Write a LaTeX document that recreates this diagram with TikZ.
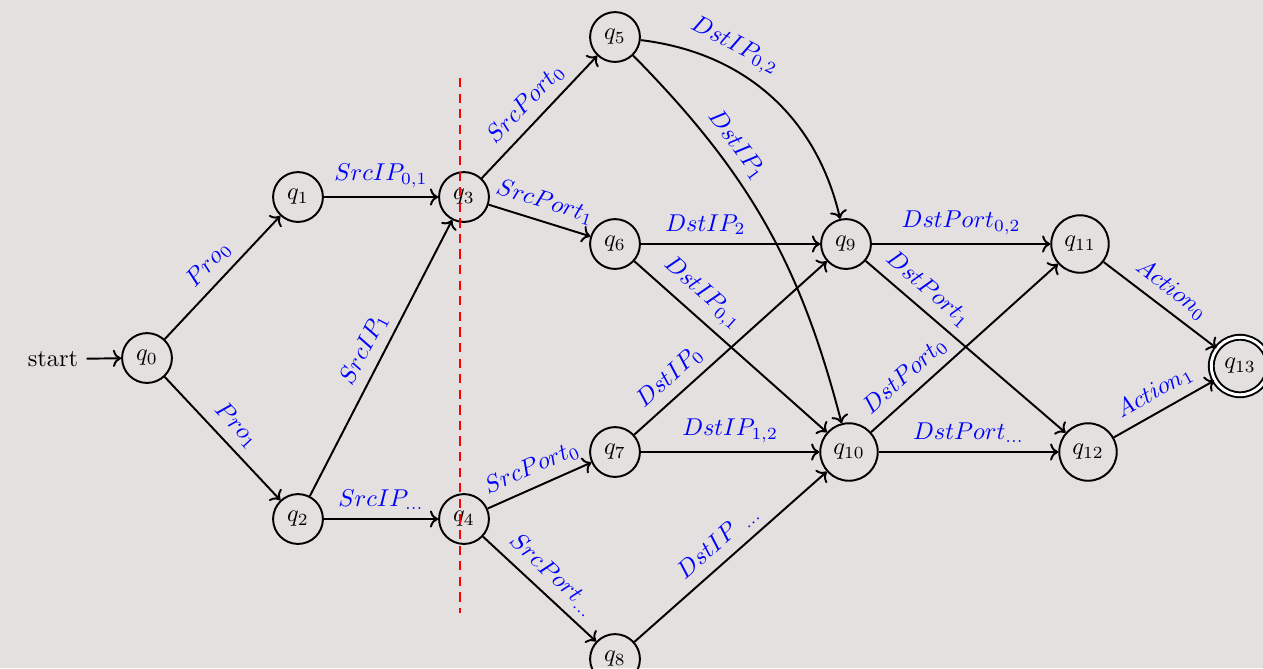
\documentclass[tikz,border=0pt]{standalone}
\usepackage{amsmath,amssymb}
\usetikzlibrary{arrows.meta}
\definecolor{bgcol}{RGB}{227,224,223}

\begin{document}
\begin{tikzpicture}[x = 0.01443cm, y = -0.01443cm,
        qnode/.style = {draw, circle, thick, inner sep = 3.4pt},
        qfinal/.style = {qnode, double, double distance = 1.2pt},
        trans/.style = {draw, thick, ->},
        tlabel/.style = {sloped, above, text = blue}]
        \path[use as bounding box, fill = bgcol](0,0)rectangle(1263,668);
        % states
        \node(start)at(53,359){start};
        \node[qnode](q0)at(147,358){$q_{0}$};
        \node[qnode](q1)at(298,197){$q_{1}$};
        \node[qnode](q2)at(298,519){$q_{2}$};
        \node[qnode](q3)at(464,197){$q_{3}$};
        \node[qnode](q4)at(464,519){$q_{4}$};
        \node[qnode](q5)at(615,37){$q_{5}$};
        \node[qnode](q6)at(615,244){$q_{6}$};
        \node[qnode](q7)at(615,452){$q_{7}$};
        \node[qnode](q8)at(615,659){$q_{8}$};
        \node[qnode](q9)at(846,244){$q_{9}$};
        \node[qnode](q10)at(849,452){$q_{10}$};
        \node[qnode](q11)at(1080,244){$q_{11}$};
        \node[qnode](q12)at(1088,452){$q_{12}$};
        \node[qfinal](q13)at(1240,366){$q_{13}$};
        % cut
        \coordinate(cut1)at(460,78);
        \coordinate(cut2)at(460,613);
        \path[draw, red, thick, dash pattern = on 3.8pt off 2.6pt](cut1)to(cut2);
        % protocol
        \path[trans](start)to(q0);
        \path[trans](q0)to node[tlabel]{$Pro_{0}$}(q1);
        \path[trans](q0)to node[tlabel]{$Pro_{1}$}(q2);
        % source ip
        \path[trans](q1)to node[tlabel]{$SrcIP_{0,1}$}(q3);
        \path[trans](q2)to node[tlabel]{$SrcIP_{1}$}(q3);
        \path[trans](q2)to node[tlabel]{$SrcIP_{\ldots}$}(q4);
        % source port
        \path[trans](q3)to node[tlabel]{$SrcPort_{0}$}(q5);
        \path[trans](q3)to node[tlabel]{$SrcPort_{1}$}(q6);
        \path[trans](q4)to node[tlabel]{$SrcPort_{0}$}(q7);
        \path[trans](q4)to node[tlabel]{$SrcPort_{\ldots}$}(q8);
        % destination ip
        \path[trans](q5)to[bend left = 35] node[tlabel, pos = 0.3]{$DstIP_{0,2}$}(q9);
        \path[trans](q5)to[bend left = 15] node[tlabel, pos = 0.3]{$DstIP_{1}$}(q10);
        \path[trans](q6)to node[tlabel, pos = 0.36]{$DstIP_{2}$}(q9);
        \path[trans](q6)to node[tlabel, pos = 0.28]{$DstIP_{0,1}$}(q10);
        \path[trans](q7)to node[tlabel, pos = 0.25]{$DstIP_{0}$}(q9);
        \path[trans](q7)to node[tlabel]{$DstIP_{1,2}$}(q10);
        \path[trans](q8)to node[tlabel]{$DstIP\ _{\ldots}$}(q10);
        % destination port
        \path[trans](q9)to node[tlabel]{$DstPort_{0,2}$}(q11);
        \path[trans](q9)to node[tlabel, pos = 0.25]{$DstPort_{1}$}(q12);
        \path[trans](q10)to node[tlabel, pos = 0.25]{$DstPort_{0}$}(q11);
        \path[trans](q10)to node[tlabel]{$DstPort_{\ldots}$}(q12);
        % action
        \path[trans](q11)to node[tlabel]{$Action_{0}$}(q13);
        \path[trans](q12)to node[tlabel]{$Action_{1}$}(q13);
    \end{tikzpicture}
\end{document}
